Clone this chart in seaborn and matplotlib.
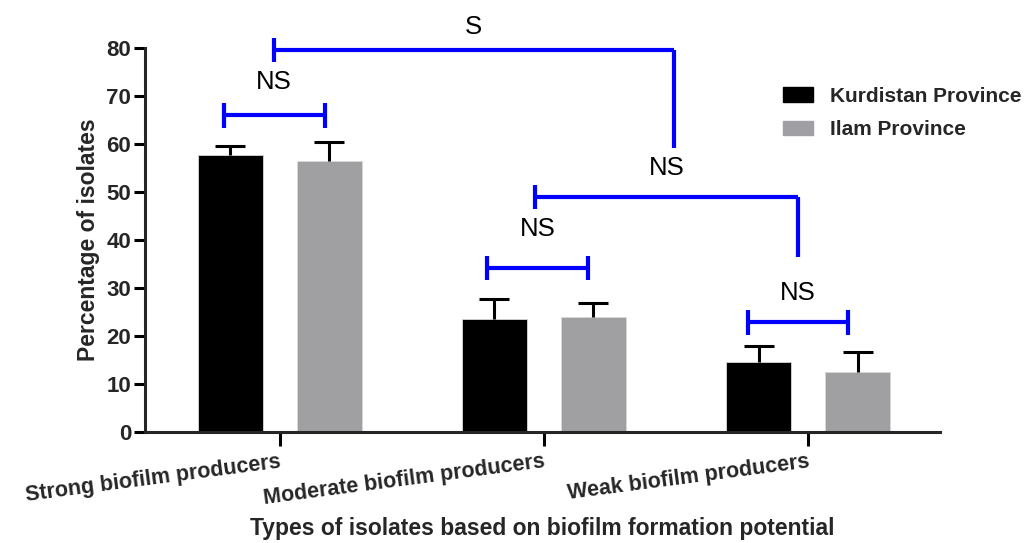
import pandas as pd
import numpy as np
import matplotlib.pyplot as plt
import matplotlib.patches as mpatches
import seaborn as sns

# -----------------------------------
# Data
# -----------------------------------
categories = ["Strong biofilm producers", "Moderate biofilm producers", "Weak biofilm producers"]
provinces = ["Kurdistan Province", "Ilam Province"]
kurdistan = [57.8, 23.5, 14.5]
kurdistan_err = [1.8, 4.3, 3.5]
ilam = [56.5, 24.0, 12.4]
ilam_err = [4.0, 2.8, 4.2]

# significance brackets: x0, x1, y, left drop, right drop, label, label y
brackets = [
    (-0.023, 1.492, 79.6, 2.5, 20.4, "S", 84.4),
    (-0.212, 0.170, 66.0, 2.6, 2.6, "NS", 73.0),
    (0.966, 1.962, 49.0, 2.5, 12.5, "NS", 55.0),
    (0.784, 1.167, 34.2, 2.6, 2.6, "NS", 42.3),
    (1.773, 2.152, 22.9, 2.6, 2.6, "NS", 29.0),
]

df = pd.DataFrame({
    "Type": categories * 2,
    "Province": [provinces[0]] * 3 + [provinces[1]] * 3,
    "Percent": kurdistan + ilam,
    "Err": kurdistan_err + ilam_err,
})

colors = {"Kurdistan Province": "#000000", "Ilam Province": "#a09fa4"}

sns.set_theme(style="ticks")
plt.rcParams["font.family"] = ["Liberation Sans", "DejaVu Sans"]

fig = plt.figure(figsize=(10.32, 5.43), dpi=100)
ax = fig.add_axes([0.1405, 0.2044, 0.7705, 0.7072])

sns.barplot(data=df, x="Type", y="Percent", hue="Province", order=categories,
            hue_order=provinces, palette=colors, errorbar=None, width=0.75,
            gap=0.34, edgecolor="#d8d8d8", linewidth=0.6, legend=False, ax=ax)

# upward-only error bars at each bar centre
errs = kurdistan_err + ilam_err
tops = kurdistan + ilam
for p, val, e in zip(ax.patches, tops, errs):
    xc = p.get_x() + p.get_width() / 2
    _, caps, _ = ax.errorbar(xc, val, yerr=[[0], [e]], fmt="none", ecolor="black",
                             elinewidth=2.2, capsize=11, capthick=2.2)
    caps[0].set_visible(False)

# significance brackets
for x0, x1, y, dl, dr, lab, ty in brackets:
    kw = dict(color="#0000ff", lw=3, solid_capstyle="butt", clip_on=False)
    ax.plot([x0, x1], [y, y], **kw)
    ax.plot([x0, x0], [y + 2.5, y - dl], **kw)
    ax.plot([x1, x1], [y + 2.5 if dr < 5 else y, y - dr], **kw)
    ax.text((x0 + x1) / 2, ty, lab, ha="center", va="center", fontsize=18.5,
            color="black", clip_on=False)

ax.set_xlim(-0.51, 2.5)
ax.set_ylim(0, 80)
ax.set_yticks(np.arange(0, 81, 10))
sns.despine(ax=ax)
for s in ["left", "bottom"]:
    ax.spines[s].set_linewidth(2.2)
ax.tick_params(axis="both", width=2.2, length=8, color="black", pad=2)
ax.tick_params(axis="x", length=10, pad=4)

for t in ax.get_yticklabels():
    t.set_fontsize(16)
    t.set_fontweight("bold")
ax.set_xticks(range(3))
ax.set_xticklabels(categories, rotation=7.5, ha="right", rotation_mode="anchor",
                   fontsize=15.5, fontweight="bold")

ax.set_ylabel("Percentage of isolates", fontsize=16.5, fontweight="bold")
ax.yaxis.set_label_coords(-0.057, 0.5)
ax.set_xlabel("Types of isolates based on biofilm formation potential",
              fontsize=16.5, fontweight="bold", va="center")
ax.xaxis.set_label_coords(0.5, -0.252)

handles = [mpatches.Patch(color=colors[p], label=p) for p in provinces]
leg = fig.legend(handles=handles, loc="upper left",
                 bbox_to_anchor=(764 / 1032, 1 - 68 / 543), frameon=False,
                 handlelength=1.45, handleheight=0.7, handletextpad=0.8,
                 labelspacing=0.7, prop={"size": 15, "weight": "bold"})

plt.savefig("out.png", dpi=100)
